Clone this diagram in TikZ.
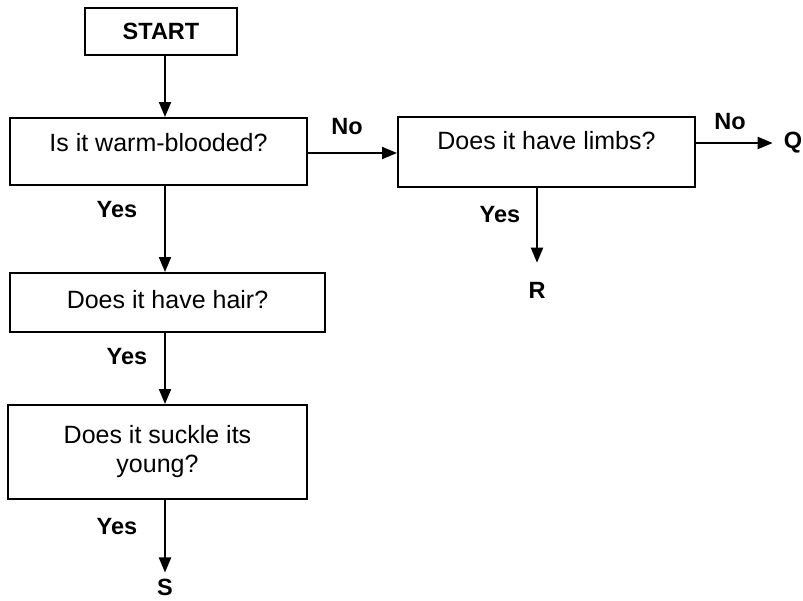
\documentclass[tikz,border=0pt]{standalone}
\usepackage{fontspec}
\setmainfont{Liberation Sans}
\usetikzlibrary{arrows.meta}
\begin{document}
\begin{tikzpicture}[x=1pt,y=-1pt,
  box/.style={draw, line width=2pt, rectangle, inner sep=0pt, align=center,
    font=\fontsize{25}{29}\selectfont},
  lbl/.style={font=\bfseries\fontsize{23.5}{28}\selectfont, inner sep=0pt},
  arr/.style={line width=2pt, -{Triangle[length=15pt,width=12pt]}}]
\useasboundingbox (0,0) rectangle (803,600);
\node[box, minimum width=152pt, minimum height=47pt, font=\bfseries\fontsize{23.5}{28}\selectfont] (start) at (161,31.5) {START};
\node[box, minimum width=297pt, minimum height=67pt, text height=17pt, text depth=17pt] (q1) at (158.5,151.5) {Is it warm-blooded?};
\node[box, minimum width=297pt, minimum height=70pt, text height=17pt, text depth=23pt] (q2) at (546.5,152) {Does it have limbs?};
\node[box, minimum width=315pt, minimum height=59pt, text height=17pt, text depth=5pt] (q3) at (167.5,302.5) {Does it have hair?};
\node[box, minimum width=299pt, minimum height=94pt] (q4) at (157.5,452) {Does it suckle its\\young?};
\node[lbl] (Q) at (793,143) {Q};
\node[lbl] (R) at (537,290) {R};
\node[lbl] (S) at (165,587) {S};
\coordinate (cx) at (165,0);
\coordinate (rx) at (537,0);
\coordinate (ny) at (0,153);
\coordinate (qy) at (0,143);
\draw[arr] (start.south -| cx) -- (q1.north -| cx);
\draw[arr] (q1.south -| cx) -- (q3.north -| cx);
\draw[arr] (q3.south -| cx) -- (q4.north -| cx);
\draw[arr, shorten >=6pt] (q4.south -| cx) -- (S.north);
\draw[arr] (q1.east |- ny) -- (q2.west |- ny);
\draw[arr, shorten >=11pt] (q2.east |- qy) -- (Q.west);
\draw[arr, shorten >=19pt] (q2.south -| rx) -- (R.north);
\node[lbl] (no1) at (347,127) {No};
\node[lbl] (no2) at (730,122) {No};
\node[lbl] (y1) at (117,210) {Yes};
\node[lbl] (y2) at (500,215) {Yes};
\node[lbl] (y3) at (127,357) {Yes};
\node[lbl] (y4) at (117,527) {Yes};
\end{tikzpicture}
\end{document}
